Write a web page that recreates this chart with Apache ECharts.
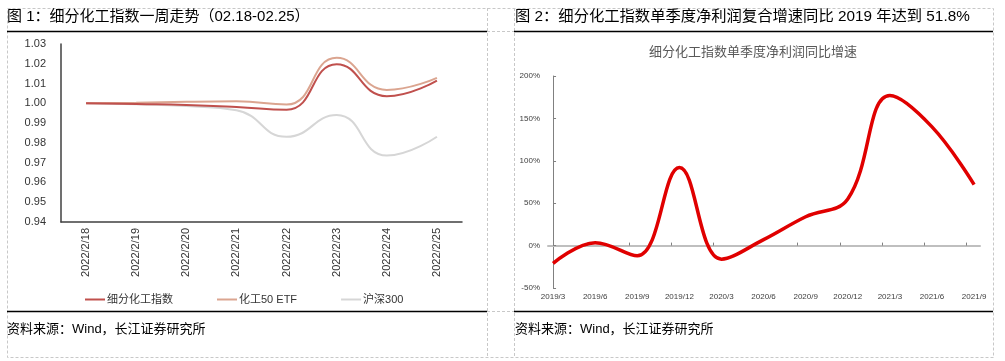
<!DOCTYPE html>
<html>
<head>
<meta charset="utf-8">
<script src="https://cdn.jsdelivr.net/npm/echarts@6/dist/echarts.min.js"></script>
<style>
html,body{margin:0;padding:0;background:#fff;}
#c{width:1005px;height:361px;}
</style>
</head>
<body>
<div id="c"></div>
<script>
// ---- Chart 1 data ----
const weekDates = ['2022/2/18','2022/2/19','2022/2/20','2022/2/21','2022/2/22','2022/2/23','2022/2/24','2022/2/25'];
const sectorIndex = [1.000, 0.9996, 0.9992, 0.9982, 0.9968, 1.0198, 1.0036, 1.0115];
const etf50       = [1.000, 1.0003, 1.0008, 1.0010, 0.9994, 1.0230, 1.0068, 1.0129];
const hs300       = [1.000, 0.9995, 0.9986, 0.9965, 0.9831, 0.9941, 0.9736, 0.9831];
const seriesNames1 = ['细分化工指数', '化工50 ETF', '沪深300'];

// ---- Chart 2 data ----
const quarters = ['2019/3','2019/6','2019/9','2019/12','2020/3','2020/6','2020/9','2020/12','2021/3','2021/6','2021/9'];
const profitGrowth = [-21, 3.5, -12, 92, -16, 7, 34, 55, 177, 140, 72];

const titles = {
  t1: '图 1：细分化工指数一周走势（02.18-02.25）',
  t2: '图 2：细分化工指数单季度净利润复合增速同比 2019 年达到 51.8%',
  inner2: '细分化工指数单季度净利润同比增速',
  source: '资料来源：Wind，长江证券研究所'
};

const FF = "'Liberation Sans', 'Noto Sans CJK SC', sans-serif";
const chart = echarts.init(document.getElementById('c'), null, {renderer: 'canvas'});

const dashStyle = {stroke: '#c8c8c8', lineWidth: 1, lineDash: [3, 2]};
function hline(x1, x2, y, style) { return {type: 'line', shape: {x1, y1: y, x2, y2: y}, style, silent: true}; }
function vline(x, y1, y2, style) { return {type: 'line', shape: {x1: x, y1, x2: x, y2}, style, silent: true}; }
const blackStyle = {stroke: '#000', lineWidth: 1.5};

const quarterIdx = quarters.map((q, i) => i);
const tickPos = quarters.slice(1).map((q, i) => i + 0.81);

chart.setOption({
  animation: false,
  textStyle: {fontFamily: FF},
  title: [
    {text: titles.t1, left: 7, top: 9, padding: 0, textStyle: {fontSize: 15, fontWeight: 'normal', color: '#000', fontFamily: FF}},
    {text: titles.t2, left: 515, top: 9, padding: 0, textStyle: {fontSize: 15.3, fontWeight: 'normal', color: '#000', fontFamily: FF}},
    {text: titles.inner2, left: 753, textAlign: 'center', top: 46, padding: 0, textStyle: {fontSize: 13, fontWeight: 'normal', color: '#595959', fontFamily: FF}},
    {text: titles.source, left: 7, top: 323, padding: 0, textStyle: {fontSize: 13, fontWeight: 'normal', color: '#000', fontFamily: FF}},
    {text: titles.source, left: 515, top: 323, padding: 0, textStyle: {fontSize: 13, fontWeight: 'normal', color: '#000', fontFamily: FF}}
  ],
  graphic: [
    {type: 'rect', shape: {x: 7.5, y: 8.5, width: 986, height: 349}, style: Object.assign({fill: 'none'}, dashStyle), silent: true},
    vline(487.5, 8, 357, dashStyle),
    vline(514.5, 8, 357, dashStyle),
    hline(487, 514, 31.5, dashStyle),
    hline(487, 514, 311.5, dashStyle),
    hline(7, 487, 31.5, blackStyle),
    hline(514, 993, 31.5, blackStyle),
    hline(7, 487, 311.5, blackStyle),
    hline(514, 993, 311.5, blackStyle)
  ],
  legend: {
    left: 80, top: 289,
    itemWidth: 20, itemHeight: 2, itemGap: 44, icon: 'rect',
    textStyle: {fontSize: 11, color: '#333', fontFamily: FF, padding: [0, 0, 0, -3]},
    data: seriesNames1
  },
  grid: [
    {left: 61, right: 543, top: 44, bottom: 139, containLabel: false},
    {left: 548, right: 25, top: 76, bottom: 73, containLabel: false}
  ],
  xAxis: [
    {
      gridIndex: 0, type: 'category', data: weekDates, boundaryGap: true,
      axisLine: {lineStyle: {color: '#404040', width: 1.5}},
      axisTick: {inside: true, length: 4, lineStyle: {color: '#404040'}},
      axisLabel: {rotate: 90, fontSize: 11, color: '#333', margin: 6, fontFamily: FF},
      splitLine: {show: false}
    },
    {
      gridIndex: 1, type: 'value', min: -0.12, max: 10.14, position: 'bottom',
      axisLine: {show: true, onZero: true, lineStyle: {color: '#bfbfbf', width: 2}},
      axisTick: {show: true, inside: true, length: 3, customValues: tickPos, lineStyle: {color: '#808080'}},
      axisLabel: {show: false},
      splitLine: {show: false}
    },
    {
      gridIndex: 1, type: 'value', min: -0.12, max: 10.14, position: 'bottom',
      axisLine: {show: false, onZero: false},
      axisTick: {show: false},
      axisLabel: {show: true, customValues: quarterIdx, formatter: v => quarters[Math.round(v)], fontSize: 8, color: '#404040', margin: 5, fontFamily: FF},
      splitLine: {show: false}
    }
  ],
  yAxis: [
    {
      gridIndex: 0, type: 'value', min: 0.94, max: 1.03, interval: 0.01,
      axisLine: {show: true, lineStyle: {color: '#404040', width: 1.5}},
      axisTick: {show: false},
      axisLabel: {fontSize: 11, color: '#333', margin: 15, formatter: v => v.toFixed(2), fontFamily: FF},
      splitLine: {show: false}
    },
    {
      gridIndex: 1, type: 'value', min: -50, max: 200, interval: 50,
      axisLine: {show: true, lineStyle: {color: '#808080', width: 1}},
      axisTick: {show: true, inside: true, length: 3, lineStyle: {color: '#808080'}},
      axisLabel: {fontSize: 8, color: '#404040', margin: 8, formatter: v => v + '%', fontFamily: FF},
      splitLine: {show: false}
    }
  ],
  series: [
    {name: seriesNames1[0], type: 'line', xAxisIndex: 0, yAxisIndex: 0, data: sectorIndex, smooth: 0.5, symbol: 'none', z: 4,
     lineStyle: {color: '#c0504d', width: 2}, itemStyle: {color: '#c0504d'}},
    {name: seriesNames1[1], type: 'line', xAxisIndex: 0, yAxisIndex: 0, data: etf50, smooth: 0.5, symbol: 'none', z: 3,
     lineStyle: {color: '#dba590', width: 2}, itemStyle: {color: '#dba590'}},
    {name: seriesNames1[2], type: 'line', xAxisIndex: 0, yAxisIndex: 0, data: hs300, smooth: 0.5, symbol: 'none', z: 2,
     lineStyle: {color: '#d6d6d6', width: 2}, itemStyle: {color: '#d6d6d6'}},
    {name: 'growth', type: 'line', xAxisIndex: 1, yAxisIndex: 1, data: profitGrowth.map((v, i) => [i, v]), smooth: 0.4, smoothConstraint: false, symbol: 'none', z: 5,
     lineStyle: {color: '#e00000', width: 3.5}, itemStyle: {color: '#e00000'}}
  ]
});
</script>
</body>
</html>
